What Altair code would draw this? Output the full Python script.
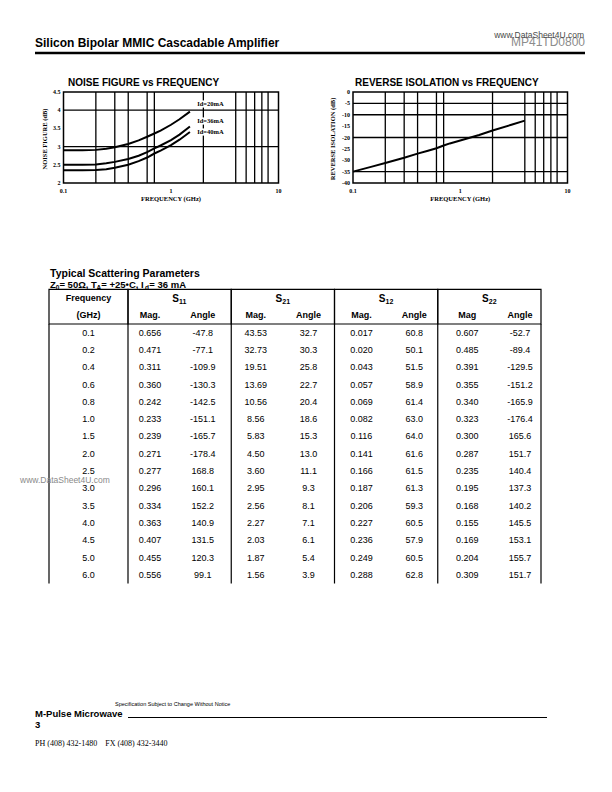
import altair as alt
import pandas as pd

# ---------------- Noise figure vs frequency ----------------
nf_freq = [0.1, 0.15, 0.2, 0.25, 0.3, 0.4, 0.5, 0.6, 0.7, 0.8, 1.0, 1.2, 1.5]
nf_20ma = [2.90, 2.90, 2.91, 2.94, 2.98, 3.07, 3.17, 3.27, 3.36, 3.44, 3.60, 3.75, 3.96]
nf_36ma = [2.50, 2.50, 2.51, 2.54, 2.58, 2.66, 2.75, 2.85, 2.95, 3.03, 3.18, 3.33, 3.55]
nf_40ma = [2.35, 2.35, 2.36, 2.38, 2.42, 2.50, 2.60, 2.70, 2.81, 2.89, 3.04, 3.19, 3.40]
nf_names = ["Id=20mA", "Id=36mA", "Id=40mA"]
nf_label_freq = [1.75, 1.75, 1.75]
nf_label_db = [4.16, 3.70, 3.41]

# ---------------- Reverse isolation vs frequency ----------------
ri_freq = [0.1, 0.15, 0.2, 0.3, 0.4, 0.5, 0.6, 0.7, 0.8, 1.0, 1.5, 2.0, 3.0, 4.0]
ri_db = [-35.0, -32.8, -31.2, -28.9, -27.1, -25.8, -24.7, -23.5, -22.6, -21.3, -18.9, -16.9, -14.4, -12.6]

# ---------------- shared chart furniture ----------------
grid_freq = [0.2, 0.3, 0.4, 0.6, 0.7, 2, 4, 5, 6, 7, 8]
x_ticks = [0.1, 1, 10]
x_tick_labels = ["0.1", "1", "10"]
nf_grid_db = [3, 4]
nf_ticks = [2, 2.5, 3, 3.5, 4, 4.5]
nf_tick_labels = ["2", "2.5", "3", "3.5", "4", "4.5"]
ri_grid_db = [-5, -10, -20, -35]
ri_ticks = [0, -5, -10, -15, -20, -25, -30, -35, -40]
ri_tick_labels = ["0", "-5", "-10", "-15", "-20", "-25", "-30", "-35", "-40"]

# ---------------- Scattering parameter table ----------------
freq_labels = ["0.1", "0.2", "0.4", "0.6", "0.8", "1.0", "1.5", "2.0", "2.5",
               "3.0", "3.5", "4.0", "4.5", "5.0", "6.0"]
s11_mag = [0.656, 0.471, 0.311, 0.360, 0.242, 0.233, 0.239, 0.271, 0.277, 0.296, 0.334, 0.363, 0.407, 0.455, 0.556]
s11_ang = [-47.8, -77.1, -109.9, -130.3, -142.5, -151.1, -165.7, -178.4, 168.8, 160.1, 152.2, 140.9, 131.5, 120.3, 99.1]
s21_mag = [43.53, 32.73, 19.51, 13.69, 10.56, 8.56, 5.83, 4.50, 3.60, 2.95, 2.56, 2.27, 2.03, 1.87, 1.56]
s21_ang = [32.7, 30.3, 25.8, 22.7, 20.4, 18.6, 15.3, 13.0, 11.1, 9.3, 8.1, 7.1, 6.1, 5.4, 3.9]
s12_mag = [0.017, 0.020, 0.043, 0.057, 0.069, 0.082, 0.116, 0.141, 0.166, 0.187, 0.206, 0.227, 0.236, 0.249, 0.288]
s12_ang = [60.8, 50.1, 51.5, 58.9, 61.4, 63.0, 64.0, 61.6, 61.5, 61.3, 59.3, 60.5, 57.9, 60.5, 62.8]
s22_mag = [0.607, 0.485, 0.391, 0.355, 0.340, 0.323, 0.300, 0.287, 0.235, 0.195, 0.168, 0.155, 0.169, 0.204, 0.309]
s22_ang = [-52.7, -89.4, -129.5, -151.2, -165.9, -176.4, 165.6, 151.7, 140.4, 137.3, 140.2, 145.5, 153.1, 155.7, 151.7]
groups = ["S11", "S21", "S12", "S22"]
group_subs = ["11", "21", "12", "22"]
col_keys = ["S11 Mag", "S11 Ang", "S21 Mag", "S21 Ang", "S12 Mag", "S12 Ang", "S22 Mag", "S22 Ang"]
col_headers = ["Mag.", "Angle", "Mag.", "Angle", "Mag.", "Angle", "Mag", "Angle"]
col_values = [s11_mag, s11_ang, s21_mag, s21_ang, s12_mag, s12_ang, s22_mag, s22_ang]
col_formats = ["{:.3f}", "{:.1f}", "{:.2f}", "{:.1f}", "{:.3f}", "{:.1f}", "{:.3f}", "{:.1f}"]

# ---------------- layout helpers ----------------
SANS = "Liberation Sans"
SERIF = "Liberation Serif"
NB = "\u00a0"
M = 8  # page margin


def P(v):
    return v - M


dummy = pd.DataFrame({"k": [0]})
layers = []


def txt(s, x, y, size, bold=False, font=SANS, align="left", baseline="alphabetic",
        color="black", angle=None):
    kw = dict(text=s, fontSize=size, font=font, align=align, baseline=baseline, color=color)
    if bold:
        kw["fontWeight"] = "bold"
    if angle is not None:
        kw["angle"] = angle
    return alt.Chart(dummy).mark_text(**kw).encode(x=alt.value(P(x)), y=alt.value(P(y)))


PLOT_T, PLOT_B = 92, 183


def panel(x0, x1, ydom, curves, ytick_vals, ytick_lbls, hgrid, ytitle, ytitle_x,
          title, title_x, labels=None):
    xsc = alt.Scale(type="log", domain=[0.1, 10], range=[P(x0), P(x1)], nice=False)
    ysc = alt.Scale(type="linear", domain=ydom, range=[P(PLOT_B), P(PLOT_T)],
                    nice=False, zero=False)

    def X(f):
        return alt.X(f, type="quantitative", scale=xsc, axis=None)

    def Y(f):
        return alt.Y(f, type="quantitative", scale=ysc, axis=None)

    def XD(v):
        return alt.X(datum=v, type="quantitative", scale=xsc, axis=None)

    def YD(v):
        return alt.Y(datum=v, type="quantitative", scale=ysc, axis=None)

    out = []
    out.append(alt.Chart(pd.DataFrame({"f": grid_freq})).mark_rule(color="black", strokeWidth=1.3)
               .encode(x=X("f"), y=YD(ydom[0]), y2=alt.Y2(datum=ydom[1])))
    out.append(alt.Chart(pd.DataFrame({"v": hgrid})).mark_rule(color="black", strokeWidth=1.3)
               .encode(x=XD(0.1), x2=alt.X2(datum=10), y=Y("v")))
    out.append(alt.Chart(dummy).mark_rect(fillOpacity=0, stroke="black", strokeWidth=1.5)
               .encode(x=XD(0.1), x2=alt.X2(datum=10), y=YD(ydom[0]), y2=alt.Y2(datum=ydom[1])))
    if labels is not None:
        out.append(alt.Chart(labels).mark_text(align="left", baseline="middle", font=SERIF,
                                               fontWeight="bold", fontSize=6.5, fill="white",
                                               stroke="white", strokeWidth=3)
                   .encode(x=X("f"), y=Y("v"), text="t:N"))
        out.append(alt.Chart(labels).mark_text(align="left", baseline="middle", font=SERIF,
                                               fontWeight="bold", fontSize=6.5, color="black")
                   .encode(x=X("f"), y=Y("v"), text="t:N"))
    out.append(alt.Chart(curves).mark_line(color="black", strokeWidth=2)
               .encode(x=X("f"), y=Y("v"), detail="s:N"))
    out.append(alt.Chart(pd.DataFrame({"f": x_ticks, "t": x_tick_labels}))
               .mark_text(font=SERIF, fontWeight="bold", fontSize=6, baseline="middle", align="center")
               .encode(x=X("f"), y=alt.value(P(190.5)), text="t:N"))
    out.append(alt.Chart(pd.DataFrame({"v": ytick_vals, "t": ytick_lbls}))
               .mark_text(font=SERIF, fontWeight="bold", fontSize=6, baseline="middle", align="right")
               .encode(x=alt.value(P(x0 - 3)), y=Y("v"), text="t:N"))
    out.append(alt.Chart(dummy)
               .mark_text(text="FREQUENCY (GHz)", font=SERIF, fontWeight="bold", fontSize=6.5,
                          baseline="middle", align="center")
               .encode(x=XD(1), y=alt.value(P(198.5))))
    out.append(txt(ytitle, ytitle_x, 139, 6.5, bold=True, font=SERIF, align="center",
                   baseline="middle", angle=270))
    out.append(txt(title, title_x, 86.3, 10, bold=True))
    return out


nf_df = pd.DataFrame({
    "f": nf_freq * 3,
    "v": nf_20ma + nf_36ma + nf_40ma,
    "s": [nf_names[0]] * len(nf_freq) + [nf_names[1]] * len(nf_freq) + [nf_names[2]] * len(nf_freq),
})
nf_lab = pd.DataFrame({"f": nf_label_freq, "v": nf_label_db, "t": nf_names})
ri_df = pd.DataFrame({"f": ri_freq, "v": ri_db, "s": ["S12"] * len(ri_freq)})

layers += panel(63.5, 278.5, [2, 4.5], nf_df, nf_ticks, nf_tick_labels, nf_grid_db,
                "NOISE FIGURE (dB)", 45, "NOISE FIGURE vs FREQUENCY", 68, nf_lab)
layers += panel(353, 567.5, [-40, 0], ri_df, ri_ticks, ri_tick_labels, ri_grid_db,
                "REVERSE ISOLATION (dB)", 332.5, "REVERSE ISOLATION vs FREQUENCY", 355)

# ---------------- page header ----------------
layers.append(txt("Silicon Bipolar MMIC Cascadable Amplifier", 35, 46.5, 12, bold=True))
layers.append(txt("MP41TD0800", 585, 45.5, 12, align="right", color="#8c8c8c"))
layers.append(txt("www.DataSheet4U.com", 584, 38, 8.5, align="right", color="#4a4a4a"))
layers.append(alt.Chart(dummy).mark_rule(color="black", strokeWidth=2.5)
              .encode(x=alt.value(P(35)), x2=alt.value(P(585)), y=alt.value(P(53))))

# ---------------- table ----------------
n_rows = 2 + len(freq_labels)
row_sc = alt.Scale(type="linear", domain=[-0.5, n_rows - 0.5], range=[P(289.4), P(583.5)],
                   nice=False, zero=False)


def RY(f):
    return alt.Y(f, type="quantitative", scale=row_sc, axis=None)


def RYD(v):
    return alt.Y(datum=v, type="quantitative", scale=row_sc, axis=None)


col_sc = alt.Scale(type="point", domain=col_keys, range=[P(150), P(520)], padding=0)
freq_sc = alt.Scale(type="band", domain=["Frequency"], range=[P(49), P(128)], paddingInner=0, paddingOuter=0)
grp_sc = alt.Scale(type="band", domain=groups, range=[P(128), P(541)], paddingInner=0, paddingOuter=0)

recs = []
for key, vals, fm in zip(col_keys, col_values, col_formats):
    for i, v in enumerate(vals):
        recs.append({"c": key, "r": i + 2, "t": fm.format(v)})
cells = pd.DataFrame(recs)
layers.append(alt.Chart(cells).mark_text(font=SANS, fontSize=9, baseline="middle", align="center")
              .encode(x=alt.X("c", type="nominal", scale=col_sc, axis=None), y=RY("r"), text="t:N"))
layers.append(alt.Chart(pd.DataFrame({"c": col_keys, "r": [1] * 8, "t": col_headers}))
              .mark_text(font=SANS, fontSize=9, fontWeight="bold", baseline="middle", align="center")
              .encode(x=alt.X("c", type="nominal", scale=col_sc, axis=None), y=RY("r"), text="t:N"))

fcol = pd.DataFrame({"c": ["Frequency"] * len(freq_labels),
                     "r": list(range(2, n_rows)), "t": freq_labels})
layers.append(alt.Chart(fcol).mark_text(font=SANS, fontSize=9, baseline="middle", align="center")
              .encode(x=alt.X("c", type="nominal", scale=freq_sc, axis=None, bandPosition=0.5),
                      y=RY("r"), text="t:N"))
layers.append(alt.Chart(pd.DataFrame({"c": ["Frequency", "Frequency"], "r": [0, 1],
                                      "t": ["Frequency", "(GHz)"]}))
              .mark_text(font=SANS, fontSize=9, fontWeight="bold", baseline="middle", align="center")
              .encode(x=alt.X("c", type="nominal", scale=freq_sc, axis=None, bandPosition=0.5),
                      y=RY("r"), text="t:N"))
# frequency header box and left border
fbox = pd.DataFrame({"c": ["Frequency"]})
layers.append(alt.Chart(fbox).mark_rect(fillOpacity=0, stroke="black", strokeWidth=1.2)
              .encode(x=alt.X("c", type="nominal", scale=freq_sc, axis=None),
                      y=RYD(-0.5), y2=alt.Y2(datum=1.5)))
layers.append(alt.Chart(fbox).mark_rule(color="black", strokeWidth=1.2)
              .encode(x=alt.X("c", type="nominal", scale=freq_sc, axis=None, bandPosition=0),
                      y=RYD(1.5), y2=alt.Y2(datum=n_rows - 0.5)))

gdf = pd.DataFrame({"g": groups, "s": group_subs, "r": [0] * 4})
layers.append(alt.Chart(gdf).mark_rect(fillOpacity=0, stroke="black", strokeWidth=1.2)
              .encode(x=alt.X("g", type="nominal", scale=grp_sc, axis=None),
                      y=RYD(-0.5), y2=alt.Y2(datum=1.5)))
layers.append(alt.Chart(gdf).mark_rule(color="black", strokeWidth=1.2)
              .encode(x=alt.X("g", type="nominal", scale=grp_sc, axis=None, bandPosition=0),
                      y=RYD(1.5), y2=alt.Y2(datum=n_rows - 0.5)))
layers.append(alt.Chart(dummy).mark_rule(color="black", strokeWidth=1.2)
              .encode(x=alt.X(datum=groups[-1], type="nominal", scale=grp_sc, axis=None, bandPosition=1),
                      y=RYD(1.5), y2=alt.Y2(datum=n_rows - 0.5)))
layers.append(alt.Chart(gdf).mark_text(text="S", font=SANS, fontSize=10, fontWeight="bold",
                                       align="right", baseline="alphabetic", dx=-0.6, dy=3.5)
              .encode(x=alt.X("g", type="nominal", scale=grp_sc, axis=None, bandPosition=0.5),
                      y=RY("r")))
layers.append(alt.Chart(gdf).mark_text(font=SANS, fontSize=7, fontWeight="bold",
                                       align="left", baseline="alphabetic", dx=-0.6, dy=6)
              .encode(x=alt.X("g", type="nominal", scale=grp_sc, axis=None, bandPosition=0.5),
                      y=RY("r"), text="s:N"))

# table titles
layers.append(txt("Typical Scattering Parameters", 50, 276.5, 10.5, bold=True))
zx = 50.0
segments = [("Z", 9.5, 0, 5.80), ("0", 6.5, 2.5, 3.61), (NB + "=" + NB + "50\u03a9," + NB + "T", 9.5, 0, 37.2),
            ("A", 6.5, 2.5, 4.69), (NB + "=" + NB + "+25\u2022C," + NB + "I", 9.5, 0, 43.6), ("d", 6.5, 2.5, 4.4),
            (NB + "=" + NB + "36" + NB + "mA", 9.5, 0, 39.34)]
for s, size, dy, w in segments:
    layers.append(txt(s, zx, 287.8 + dy, size, bold=True))
    zx += w

layers.append(txt("www.DataSheet4U.com", 20, 480, 8.5, baseline="middle", color="#8a8a8a"))

# ---------------- footer ----------------
layers.append(txt("Specification Subject to Change Without Notice", 115, 704, 5.5, baseline="middle"))
layers.append(txt("M-Pulse Microwave", 35, 717, 9.5, bold=True))
layers.append(alt.Chart(dummy).mark_rule(color="black", strokeWidth=1)
              .encode(x=alt.value(P(128)), x2=alt.value(P(547)), y=alt.value(P(717.5))))
layers.append(txt("3", 35, 728, 9.5, bold=True))
layers.append(txt("PH (408) 432-1480" + NB * 4 + "FX (408) 432-3440", 35, 746, 8, font=SERIF))

chart = (alt.layer(*layers)
         .resolve_scale(x="independent", y="independent")
         .properties(width=596, height=776, padding=0,
                     autosize=alt.AutoSizeParams(type="none"))
         .configure_view(strokeWidth=0))

chart.save("out.html", embed_options={"renderer": "svg", "actions": False})
